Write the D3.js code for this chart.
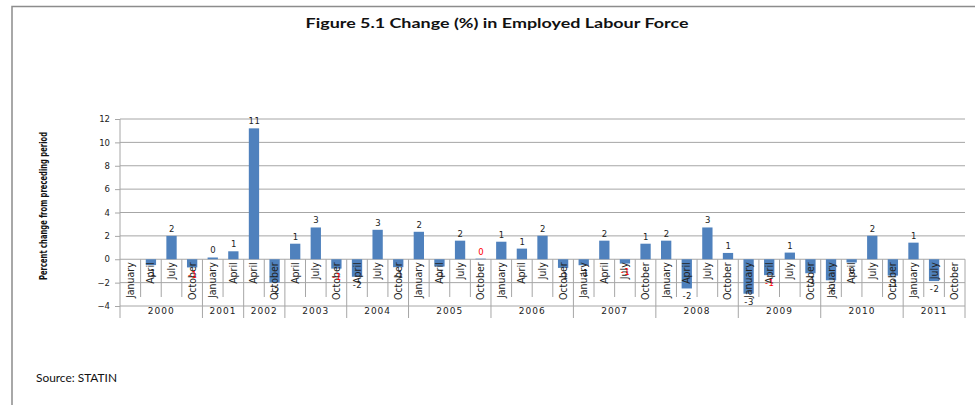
<!DOCTYPE html>
<html><head><meta charset="utf-8">
<script src="https://cdn.jsdelivr.net/npm/d3@7"></script>
<style>body{margin:0;background:#fff}svg{display:block}</style>
</head><body>
<script>
const quarters = ["January","April","July","October","January","April","April","October","April","July","October","April","July","October","January","April","July","October","January","April","July","October","January","April","July","October","January","April","July","October","January","April","July","October","January","April","July","October","January","July","October"];
const quarterYears = [2000,2000,2000,2000,2001,2001,2002,2002,2003,2003,2003,2004,2004,2004,2005,2005,2005,2005,2006,2006,2006,2006,2007,2007,2007,2007,2008,2008,2008,2008,2009,2009,2009,2009,2010,2010,2010,2010,2011,2011,2011];
const values = [null,-0.5,2.0,-0.7,0.15,0.68,11.2,-2.0,1.33,2.72,-0.8,-1.5,2.52,-0.68,2.35,-0.62,1.59,0.05,1.5,0.91,2.01,-0.74,-0.51,1.59,-0.37,1.33,1.59,-2.5,2.72,0.54,-2.95,-1.36,0.57,-1.2,-1.8,-0.28,2.01,-1.4,1.42,-1.87,null];
const valueLabels = ["","-1","2","-1","0","1","11","-2","1","3","-1","-2","3","-1","2","-1","2","0","1","1","2","-1","-1","2","-1","1","2","-2","3","1","-3","-1","1","-1","-2","0","2","-1","1","-2",""];
const redLabels = ["2000 October","2003 October","2005 October","2007 July","2009 April"];
const yTicks = [-4,-2,0,2,4,6,8,10,12];
const years = [2000,2001,2002,2003,2004,2005,2006,2007,2008,2009,2010,2011];

(function(){
const W = 975, H = 405;
const svg = d3.select("body").append("svg").attr("width", W).attr("height", H);

svg.append("path").attr("d", "M12,410 L12,6.5 L985,6.5").attr("fill","none").attr("stroke","#8c8c8c").attr("stroke-width",1.5);

const pl = 120, pr = 965, pt = 119, pb = 306;
const idx = d3.range(quarters.length);
const x = d3.scaleBand().domain(idx).range([pl, pr]).paddingInner(0.5).paddingOuter(0.25);
const step = x.step();
const y = d3.scaleLinear().domain([-4, 12]).range([pb, pt]);

const grid = "#a6a6a6";
svg.append("g").selectAll("line").data(yTicks).join("line")
  .attr("x1", pl).attr("x2", pr).attr("y1", d => y(d)).attr("y2", d => y(d))
  .attr("stroke", grid).attr("stroke-width", 1);

const yAxis = d3.axisLeft(y).tickValues(yTicks).tickSize(5).tickPadding(5);
const ga = svg.append("g").attr("transform", `translate(${pl},0)`).call(yAxis);
ga.select(".domain").remove();
ga.selectAll(".tick line").attr("stroke", grid);
ga.selectAll(".tick text").attr("font-family","DejaVu Sans, Verdana, sans-serif").attr("font-size", 8.5).attr("fill","#222");
svg.append("line").attr("x1", pl).attr("x2", pl).attr("y1", pt).attr("y2", 318).attr("stroke", grid);

const zero = y(0);
svg.append("g").selectAll("rect").data(idx.filter(i => values[i] !== null)).join("rect")
  .attr("x", i => x(i)).attr("width", x.bandwidth())
  .attr("y", i => Math.min(y(values[i]), zero))
  .attr("height", i => Math.abs(y(values[i]) - zero))
  .attr("fill", "#4f81bd");

function boundary(i){ return x(i) - (step - x.bandwidth())/2; }
const yearStart = idx.filter(i => i > 0 && quarterYears[i] !== quarterYears[i-1]);
svg.append("g").selectAll("line").data(idx.filter(i => i > 0 && !yearStart.includes(i))).join("line")
  .attr("x1", i => boundary(i)).attr("x2", i => boundary(i)).attr("y1", zero).attr("y2", 297)
  .attr("stroke", grid);
svg.append("g").selectAll("line").data(yearStart.concat([quarters.length])).join("line")
  .attr("x1", i => i < quarters.length ? boundary(i) : pr).attr("x2", i => i < quarters.length ? boundary(i) : pr)
  .attr("y1", zero).attr("y2", 318).attr("stroke", grid);

svg.append("g").selectAll("text").data(idx).join("text")
  .attr("transform", i => `translate(${x(i) + x.bandwidth()/2 + 3.5},${zero + 3}) rotate(-90)`)
  .attr("text-anchor", "end")
  .attr("font-family", "Liberation Sans Narrow, DejaVu Sans Condensed, Arial Narrow, sans-serif")
  .attr("font-stretch", "condensed")
  .attr("font-size", 10.5).attr("fill", "#222")
  .text(i => quarters[i]);

svg.append("g").selectAll("text").data(years).join("text")
  .attr("x", yr => {
    const ii = idx.filter(i => quarterYears[i] === yr);
    const a = boundary(ii[0]);
    const b = ii[ii.length-1] === quarters.length-1 ? pr : boundary(ii[ii.length-1]+1);
    return (a + b) / 2;
  })
  .attr("y", 314).attr("text-anchor", "middle")
  .attr("font-family", "DejaVu Sans, Verdana, sans-serif").attr("font-size", 9).attr("letter-spacing", 1)
  .attr("fill", "#222").text(d => d);

svg.append("g").selectAll("text").data(idx.filter(i => valueLabels[i] !== "")).join("text")
  .attr("x", i => x(i) + x.bandwidth()/2 + 0.5)
  .attr("y", i => values[i] >= 0 ? y(values[i]) - 4 : y(values[i]) + 11)
  .attr("text-anchor", "middle")
  .attr("font-family", "DejaVu Sans, Verdana, sans-serif").attr("font-size", 8.5)
  .attr("letter-spacing", 0.5)
  .attr("fill", i => redLabels.includes(quarterYears[i] + " " + quarters[i]) ? "#ff0000" : "#222")
  .text(i => valueLabels[i]);

svg.append("text").attr("x", 497).attr("y", 28).attr("text-anchor", "middle")
  .attr("font-family", "Lato, Open Sans, sans-serif").attr("font-weight", "bold").attr("font-size", 13.5)
  .attr("textLength", 383).attr("lengthAdjust", "spacingAndGlyphs")
  .attr("fill", "#111").text("Figure 5.1 Change (%) in Employed Labour Force");

svg.append("text").attr("transform", "translate(47,206) rotate(-90)").attr("text-anchor", "middle")
  .attr("font-family", "Liberation Sans Narrow, DejaVu Sans Condensed, Arial Narrow, sans-serif")
  .attr("font-weight", "bold").attr("font-size", 10.5)
  .attr("textLength", 148).attr("lengthAdjust", "spacingAndGlyphs")
  .attr("fill", "#111").text("Percent  change from preceding period");

svg.append("text").attr("x", 36).attr("y", 382)
  .attr("font-family", "Lato, Open Sans, sans-serif").attr("font-size", 11.5)
  .attr("textLength", 81).attr("lengthAdjust", "spacingAndGlyphs")
  .attr("fill", "#111").text("Source: STATIN");
})();
</script>
</body></html>
